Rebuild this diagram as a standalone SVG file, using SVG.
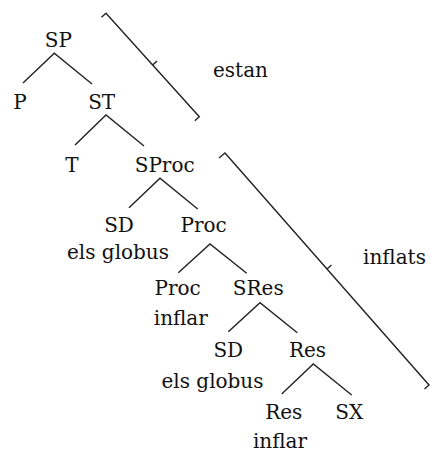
<svg xmlns="http://www.w3.org/2000/svg" width="430" height="452" viewBox="0 0 430 452">
<style>
text{font-family:"DejaVu Serif","Liberation Serif",serif;font-size:20px;fill:#111;text-anchor:middle}
.e{fill:none;stroke:#222;stroke-width:1.4;stroke-linejoin:miter}
</style>
<rect width="430" height="452" fill="#fff"/>
<g id="connectors">
<polyline class="e" points="23,83 54.3,53.3 92,84"/>
<polyline class="e" points="75,145 106,115 144,146"/>
<polyline class="e" points="129,207.7 160,178.3 197.7,209"/>
<polyline class="e" points="178.3,272.7 210,244 246.7,273.3"/>
<polyline class="e" points="228.3,331.7 260,302.7 297.3,332.7"/>
<polyline class="e" points="281.7,394 313.3,364 351.7,395"/>
</g>
<g id="bracket-estan">
<polyline class="e" points="101.5,17.3 106,13.3 199.3,116.7 194.8,120.7"/>
<line class="e" x1="152.7" y1="65" x2="157" y2="61"/>
</g>
<g id="bracket-inflats">
<polyline class="e" points="219,158 225,153 429,385 424.5,389"/>
<line class="e" x1="327" y1="269" x2="331.5" y2="265"/>
</g>
<g id="n-SP"><text x="58.3" y="47">SP</text></g>
<g id="n-P"><text x="20" y="109">P</text></g>
<g id="n-ST"><text x="101.7" y="109">ST</text></g>
<g id="l-estan"><text x="240.5" y="77">estan</text></g>
<g id="n-T"><text x="72" y="171.7">T</text></g>
<g id="n-SProc"><text x="164.7" y="171.7">SProc</text></g>
<g id="n-SD1"><text x="119" y="232">SD</text><text x="118" y="259">els globus</text></g>
<g id="n-Proc1"><text x="203.7" y="232">Proc</text></g>
<g id="n-Proc2"><text x="177.7" y="295">Proc</text><text x="180.8" y="325">inflar</text></g>
<g id="n-SRes"><text x="258.3" y="295">SRes</text></g>
<g id="l-inflats"><text x="394.5" y="264">inflats</text></g>
<g id="n-SD2"><text x="228.3" y="356.7">SD</text><text x="212.5" y="388.3">els globus</text></g>
<g id="n-Res1"><text x="307.5" y="356.7">Res</text></g>
<g id="n-Res2"><text x="283.8" y="419.3">Res</text><text x="280" y="448">inflar</text></g>
<g id="n-SX"><text x="349.3" y="419.3">SX</text></g>
</svg>
